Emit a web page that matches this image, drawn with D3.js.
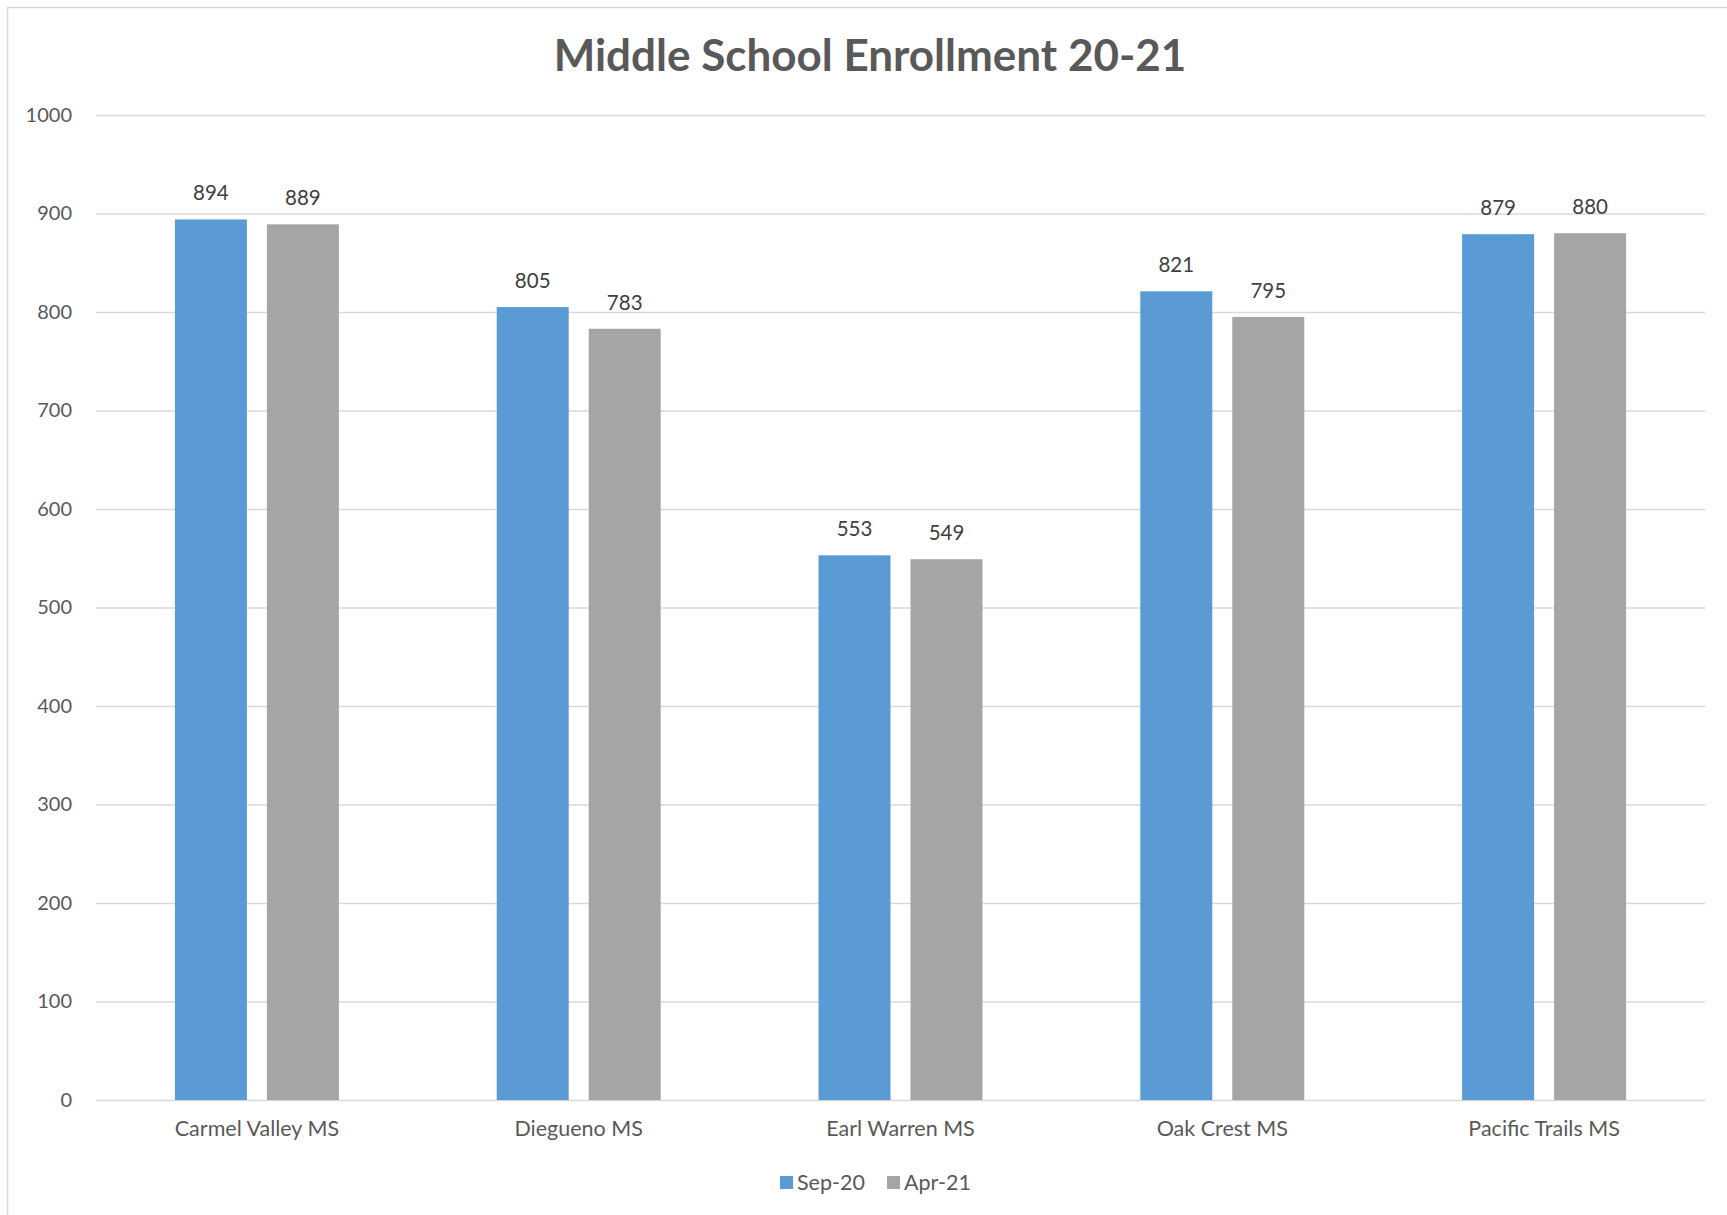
<!DOCTYPE html>
<html>
<head>
<meta charset="utf-8">
<script src="https://cdn.jsdelivr.net/npm/d3@7"></script>
<style>
  body { margin: 0; background: #fff; }
  text { font-family: Lato, "Open Sans", sans-serif; }
</style>
</head>
<body>
<svg id="chart" width="1727" height="1215"></svg>
<script>
// chart data
const schools = ['Carmel Valley MS', 'Diegueno MS', 'Earl Warren MS', 'Oak Crest MS', 'Pacific Trails MS'];
const seriesNames = ['Sep-20', 'Apr-21'];
const sep20 = [894, 805, 553, 821, 879];
const apr21 = [889, 783, 549, 795, 880];
const yTicks = [0, 100, 200, 300, 400, 500, 600, 700, 800, 900, 1000];
const colors = ['#5b9bd5', '#a5a5a5'];

const svg = d3.select('#chart');
const margin = {top: 115, right: 22, bottom: 115, left: 96};
const width = 1727, height = 1215;

// chart frame
svg.append('rect')
    .attr('x', 7.5).attr('y', 7.5)
    .attr('width', 1740).attr('height', 1240)
    .attr('fill', '#fff')
    .attr('stroke', '#d9d9d9')
    .attr('stroke-width', 1.5);

svg.append('text')
    .attr('x', 870)
    .attr('y', 71)
    .attr('text-anchor', 'middle')
    .attr('fill', '#595959')
    .attr('font-size', 44)
    .attr('font-weight', 'bold')
    .text('Middle School Enrollment 20-21');

const x0 = d3.scaleBand()
    .domain(schools)
    .range([margin.left, width - margin.right]);

const x1 = d3.scaleBand()
    .domain(seriesNames)
    .range([0, x0.bandwidth()])
    .paddingInner(0.2174)
    .paddingOuter(0.858);

const y = d3.scaleLinear()
    .domain([0, 1000])
    .range([height - margin.bottom, margin.top]);

// gridlines + y labels
const yAxis = d3.axisLeft(y)
    .tickValues(yTicks)
    .tickSize(-(width - margin.left - margin.right))
    .tickPadding(24)
    .tickFormat(d3.format('d'));

const gy = svg.append('g')
    .attr('transform', `translate(${margin.left},0)`)
    .call(yAxis);
gy.select('.domain').remove();
gy.selectAll('.tick line')
    .attr('stroke', '#d9d9d9')
    .attr('stroke-width', 1.5);
gy.selectAll('.tick text')
    .attr('fill', '#595959')
    .attr('font-size', 20);

// x labels
const xAxis = d3.axisBottom(x0).tickSize(0).tickPadding(21);
const gx = svg.append('g')
    .attr('transform', `translate(0,${y(0)})`)
    .call(xAxis);
gx.select('.domain').remove();
gx.selectAll('.tick text')
    .attr('fill', '#595959')
    .attr('font-size', 21.5);

const rows = schools.map((s, i) => ({school: s, values: [sep20[i], apr21[i]]}));

const groups = svg.append('g').selectAll('g')
    .data(rows)
    .join('g')
    .attr('transform', d => `translate(${x0(d.school)},0)`);

groups.selectAll('rect')
    .data(d => d.values.map((v, j) => ({series: seriesNames[j], value: v, color: colors[j]})))
    .join('rect')
    .attr('x', d => x1(d.series))
    .attr('y', d => y(d.value))
    .attr('width', x1.bandwidth())
    .attr('height', d => y(0) - y(d.value))
    .attr('fill', d => d.color);

groups.selectAll('text.val')
    .data(d => d.values.map((v, j) => ({series: seriesNames[j], value: v})))
    .join('text')
    .attr('class', 'val')
    .attr('x', d => x1(d.series) + x1.bandwidth() / 2)
    .attr('y', d => y(d.value) - 19)
    .attr('text-anchor', 'middle')
    .attr('fill', '#404040')
    .attr('font-size', 20.5)
    .text(d => d.value);

// legend
const legend = svg.append('g').attr('transform', 'translate(780,1182)');
const legendX = [0, 107];
seriesNames.forEach((name, i) => {
    legend.append('rect')
        .attr('x', legendX[i]).attr('y', -6)
        .attr('width', 13).attr('height', 13)
        .attr('fill', colors[i]);
    legend.append('text')
        .attr('x', legendX[i] + 17).attr('y', 0)
        .attr('dy', '0.35em')
        .attr('fill', '#595959')
        .attr('font-size', 21.5)
        .text(name);
});
</script>
</body>
</html>
